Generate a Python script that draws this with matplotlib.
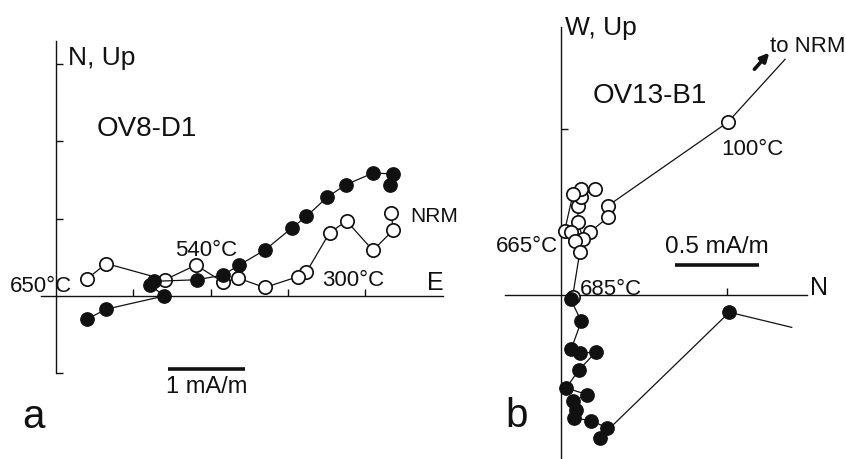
import matplotlib
matplotlib.use("Agg")
import matplotlib.pyplot as plt

plt.rcParams['font.family'] = ['Liberation Sans', 'DejaVu Sans']

# ---- Sample OV8-D1 (mA/m) ----
a_hz_e = [4.32, 4.36, 4.10, 3.75, 3.51, 3.24, 3.05, 2.71, 2.37, 2.16, 1.82, 1.27, 1.22, 1.40, 0.65, 0.40]
a_hz_n = [1.44, 1.58, 1.59, 1.44, 1.28, 1.03, 0.88, 0.60, 0.40, 0.27, 0.21, 0.19, 0.14, 0.00, -0.17, -0.30]
a_vt_e = [4.34, 4.36, 4.10, 3.76, 3.54, 3.24, 3.13, 2.70, 2.36, 2.16, 1.81, 1.41, 0.65, 0.40]
a_vt_up = [1.07, 0.85, 0.59, 0.97, 0.82, 0.31, 0.25, 0.11, 0.23, 0.18, 0.40, 0.21, 0.42, 0.22]

# ---- Sample OV13-B1 (mA/m) ----
b_vt_n = [1.35, 1.004, 0.283, 0.283, 0.173, 0.133, 0.102, 0.102, 0.119, 0.203, 0.122, 0.072,
          0.022, 0.058, 0.083, 0.113, 0.07]
b_vt_up = [1.42, 1.04, 0.538, 0.468, 0.378, 0.337, 0.438, 0.538, 0.592, 0.639, 0.639, 0.608,
           0.387, 0.378, 0.327, 0.257, -0.01]
b_hz_n = [1.39, 1.014, 0.233, 0.279, 0.183, 0.078, 0.092, 0.072, 0.157, 0.032, 0.107, 0.209,
          0.116, 0.062, 0.122, 0.058]
b_hz_w = [-0.195, -0.104, -0.861, -0.801, -0.757, -0.741, -0.693, -0.640, -0.600, -0.560,
          -0.452, -0.345, -0.349, -0.325, -0.159, -0.024]

W, H = 846, 460
fig = plt.figure(figsize=(W / 100, H / 100), dpi=100)
fig.patch.set_facecolor('white')

INK = '#111111'
LW = 0.9
MS = 9.6


def make_axes(x0, x1, px_origin, py_origin, px_per_unit):
    ax = fig.add_axes([x0 / W, 0, (x1 - x0) / W, 1])
    ax.set_xlim((x0 - px_origin) / px_per_unit, (x1 - px_origin) / px_per_unit)
    ax.set_ylim((py_origin - H) / px_per_unit, py_origin / px_per_unit)
    ax.patch.set_visible(False)
    for s in ('top', 'right'):
        ax.spines[s].set_visible(False)
    for s in ('left', 'bottom'):
        ax.spines[s].set_position(('data', 0))
        ax.spines[s].set_linewidth(1.0)
        ax.spines[s].set_color(INK)
    ax.tick_params(direction='in', length=5, width=1.0, color=INK,
                   labelleft=False, labelbottom=False)
    return ax


def open_pts(ax, x, y, **kw):
    ax.plot(x, y, '-o', color=INK, lw=LW, ms=MS, mfc='white', mec=INK, mew=1.25,
            clip_on=False, **kw)


def full_pts(ax, x, y, **kw):
    ax.plot(x, y, '-o', color=INK, lw=LW, ms=MS, mfc=INK, mec=INK, mew=1.0,
            clip_on=False, **kw)


# ---------------- panel a ----------------
ax1 = make_axes(0, 470, 56, 297, 77.3)
ax1.spines['left'].set_bounds(-1.0, 3.3)
ax1.spines['bottom'].set_bounds(-0.19, 5.0)
ax1.set_xticks([1, 2, 3, 4])
ax1.set_yticks([-1, 1, 2, 3])

open_pts(ax1, a_vt_e, a_vt_up, zorder=3)
full_pts(ax1, a_hz_e, a_hz_n, zorder=4)

t = dict(color=INK, va='baseline', ha='left')
ax1.text(0.155, 3.0, 'N, Up', fontsize=19, **t)
ax1.text(0.53, 2.08, 'OV8-D1', fontsize=20, **t)
ax1.text(1.54, 0.53, '540°C', fontsize=16, **t)
ax1.text(-0.595, 0.065, '650°C', fontsize=16, **t)
ax1.text(3.44, 0.14, '300°C', fontsize=16, **t)
ax1.text(4.58, 0.97, 'NRM', fontsize=15, **t)
ax1.text(4.80, 0.09, 'E', fontsize=18, **t)
ax1.plot([1.45, 2.45], [-0.944, -0.944], color=INK, lw=2.6, solid_capstyle='butt')
ax1.text(1.95, -1.24, '1 mA/m', fontsize=17, color=INK, ha='center', va='baseline')
ax1.text(-0.44, -1.695, 'a', fontsize=29, **t)

# ---------------- panel b ----------------
ax2 = make_axes(470, 846, 561, 296, 166)
ax2.spines['left'].set_bounds(-1.0, 1.614)
ax2.spines['bottom'].set_bounds(-0.337, 1.48)
ax2.set_xticks([1])
ax2.set_yticks([1])

# first point of each path is where the line heads off toward the NRM
ax2.plot(b_vt_n[:2], b_vt_up[:2], '-', color=INK, lw=LW, zorder=3)
open_pts(ax2, b_vt_n[1:], b_vt_up[1:], zorder=3)
ax2.plot(b_hz_n[:2], b_hz_w[:2], '-', color=INK, lw=LW, zorder=4)
full_pts(ax2, b_hz_n[1:], b_hz_w[1:], zorder=4)

ax2.annotate('', xy=(1.255, 1.46), xytext=(1.165, 1.36),
             arrowprops=dict(arrowstyle='-|>,head_length=0.5,head_width=0.25',
                             color=INK, lw=2.6, shrinkA=0, shrinkB=0))
ax2.text(0.024, 1.572, 'W, Up', fontsize=19, **t)
ax2.text(0.193, 1.163, 'OV13-B1', fontsize=20, **t)
ax2.text(1.259, 1.47, 'to NRM', fontsize=16, **t)
ax2.text(0.964, 0.849, '100°C', fontsize=16, **t)
ax2.text(-0.392, 0.265, '665°C', fontsize=16, **t)
ax2.text(0.114, 0.005, '685°C', fontsize=16, **t)
ax2.plot([0.687, 1.193], [0.181, 0.181], color=INK, lw=2.6, solid_capstyle='butt')
ax2.text(0.94, 0.259, '0.5 mA/m', fontsize=17.5, color=INK, ha='center', va='baseline')
ax2.text(1.50, 0.006, 'N', fontsize=18, **t)
ax2.text(-0.337, -0.789, 'b', fontsize=29, **t)

fig.savefig('out.png', dpi=100, facecolor='white')
